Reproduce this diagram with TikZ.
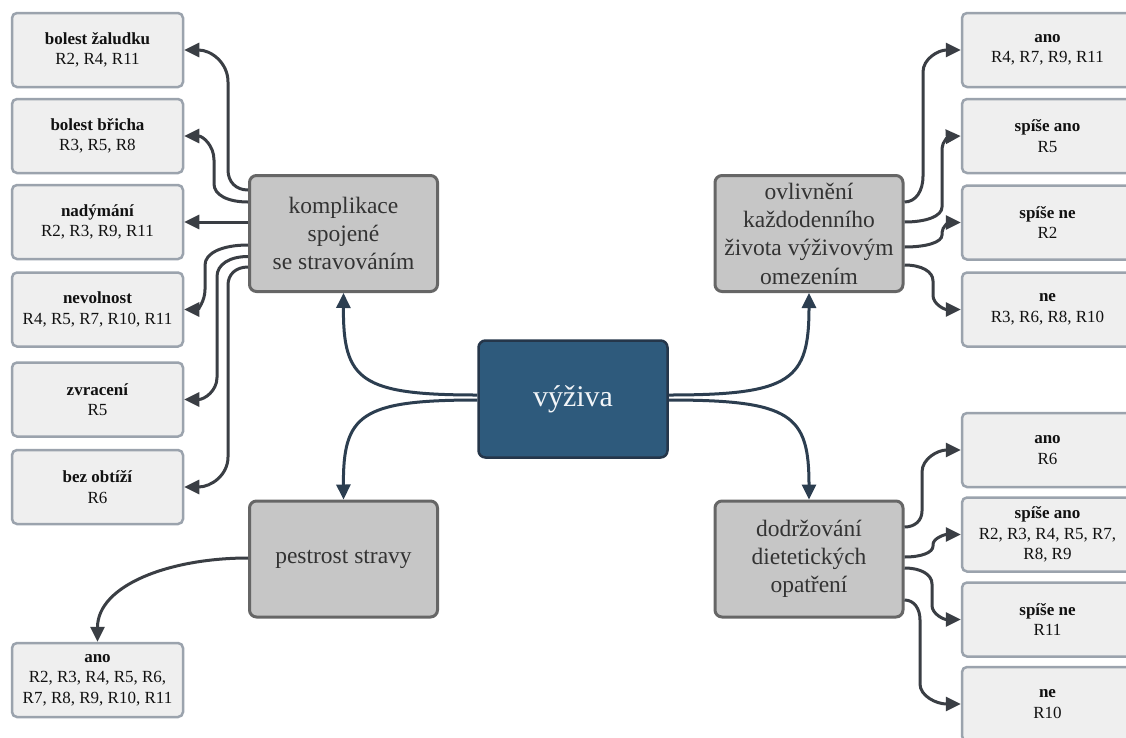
\documentclass[tikz,border=0pt]{standalone}
\usepackage{fontspec}
\setmainfont{Liberation Serif}
\usetikzlibrary{arrows.meta}
\definecolor{leaffill}{HTML}{EFEFEF}
\definecolor{leafline}{HTML}{9BA3AD}
\definecolor{leaftext}{HTML}{111111}
\definecolor{midfill}{HTML}{C6C6C6}
\definecolor{midline}{HTML}{666666}
\definecolor{midtext}{HTML}{333333}
\definecolor{rootfill}{HTML}{2E5A7C}
\definecolor{rootline}{HTML}{25364A}
\definecolor{roottext}{HTML}{F2F5F8}
\definecolor{rootlink}{HTML}{2C3E50}
\definecolor{leaflink}{HTML}{3A3E44}
\begin{document}
\begin{tikzpicture}[x=1pt,y=-1pt,
  leaf/.style={draw=leafline, fill=leaffill, line width=2.5pt, rounded corners=5pt,
    minimum width=171pt, minimum height=74pt, inner sep=0pt, align=center,
    text=leaftext, font=\fontsize{17}{20.5}\selectfont},
  topic/.style={draw=midline, fill=midfill, line width=3pt, rounded corners=7pt,
    minimum width=188pt, minimum height=116pt, inner sep=0pt, align=center,
    text=midtext, font=\fontsize{23.5}{28.3}\selectfont},
  root/.style={draw=rootline, fill=rootfill, line width=2.5pt, rounded corners=7pt,
    minimum width=189pt, minimum height=117pt, inner sep=0pt,
    text=roottext, font=\fontsize{30}{36}\selectfont},
  rootarrow/.style={draw=rootlink, line width=3pt, -{Triangle[length=15pt,width=14pt]}},
  leafarrow/.style={draw=leaflink, line width=3pt, -{Triangle[length=15pt,width=14pt]}},
]
\fill[white] (0,0) rectangle (1126,737);
\clip (0,0) rectangle (1126,737);

% central node and the four topics
\node[root] (root) at (573,399) {výživa};
\node[topic] (kompl) at (343.5,233.5) {komplikace\\spojené\\se stravováním};
\node[topic] (pestr) at (343.5,559) {pestrost stravy};
\node[topic] (ovliv) at (809,233.5) {ovlivnění\\každodenního\\života výživovým\\omezením};
\node[topic] (dodrz) at (809,559) {dodržování\\dietetických\\opatření};

% complications
\node[leaf] (k1) at (97.5,50) {\textbf{bolest žaludku}\\R2, R4, R11};
\node[leaf] (k2) at (97.5,136) {\textbf{bolest břicha}\\R3, R5, R8};
\node[leaf] (k3) at (97.5,222) {\textbf{nadýmání}\\R2, R3, R9, R11};
\node[leaf] (k4) at (97.5,309.5) {\textbf{nevolnost}\\R4, R5, R7, R10, R11};
\node[leaf] (k5) at (97.5,399.5) {\textbf{zvracení}\\R5};
\node[leaf] (k6) at (97.5,487) {\textbf{bez obtíží}\\R6};

% variety of diet
\node[leaf] (p1) at (97.5,680) {\textbf{ano}\\R2, R3, R4, R5, R6,\\R7, R8, R9, R10, R11};

% influence on daily life
\node[leaf] (o1) at (1047.5,50) {\textbf{ano}\\R4, R7, R9, R11};
\node[leaf] (o2) at (1047.5,136) {\textbf{spíše ano}\\R5};
\node[leaf] (o3) at (1047.5,222.5) {\textbf{spíše ne}\\R2};
\node[leaf] (o4) at (1047.5,309.5) {\textbf{ne}\\R3, R6, R8, R10};

% keeping dietary measures
\node[leaf] (d1) at (1047.5,450) {\textbf{ano}\\R6};
\node[leaf] (d2) at (1047.5,534.5) {\textbf{spíše ano}\\R2, R3, R4, R5, R7,\\R8, R9};
\node[leaf] (d3) at (1047.5,619.5) {\textbf{spíše ne}\\R11};
\node[leaf] (d4) at (1047.5,704) {\textbf{ne}\\R10};

% links from the root
\draw[rootarrow] (root.west |- 0,395) .. controls (360,395) and (343,380) .. (kompl.south);
\draw[rootarrow] (root.west |- 0,400) .. controls (360,400) and (343,415) .. (pestr.north);
\draw[rootarrow] (root.east |- 0,395) .. controls (792,395) and (809,380) .. (ovliv.south);
\draw[rootarrow] (root.east |- 0,400) .. controls (792,400) and (809,415) .. (dodrz.north);

% links to complications: rounded bend, vertical run, rounded bend
\draw[leafarrow] (kompl.west |- 0,190) .. controls (236,190) and (228,182) .. (228,170)
  -- (228,82) .. controls (228,62.8) and (211.2,50) .. (k1.east);
\draw[leafarrow] (kompl.west |- 0,202) .. controls (227.6,202) and (214,194.8) .. (214,184)
  -- (214,160) .. controls (214,145.6) and (202.8,136) .. (k2.east);
\draw[leafarrow] (kompl.west |- 0,222) -- (k3.east);
\draw[leafarrow] (kompl.west |- 0,245) .. controls (222.2,245) and (205,253) .. (205,265)
  -- (205,289.5) .. controls (205,301.5) and (197.4,309.5) .. (k4.east);
\draw[leafarrow] (kompl.west |- 0,256.5) .. controls (229.4,256.5) and (217,264.5) .. (217,276.5)
  -- (217,377.5) .. controls (217,390.7) and (204.6,399.5) .. (k5.east);
\draw[leafarrow] (kompl.west |- 0,267) .. controls (236,267) and (228,274.2) .. (228,285)
  -- (228,457) .. controls (228,475) and (211.2,487) .. (k6.east);

% link to variety of diet
\draw[leafarrow] (pestr.west |- 0,558) .. controls (170,558) and (97.5,585) .. (p1.north);

% links to influence on daily life
\draw[leafarrow] (ovliv.east |- 0,202) .. controls (915.4,202) and (923,191.6) .. (923,176)
  -- (923,72) .. controls (923,58.8) and (938.2,50) .. (o1.west);
\draw[leafarrow] (ovliv.east |- 0,222) .. controls (926.8,222) and (942,216) .. (942,207)
  -- (942,148.5) .. controls (942,141.3) and (949.6,136.5) .. (o2.west);
\draw[leafarrow] (ovliv.east |- 0,247) .. controls (926.8,247) and (942,242.2) .. (942,235)
  -- (942,232.5) .. controls (942,226.5) and (949.6,222.5) .. (o3.west);
\draw[leafarrow] (ovliv.east |- 0,265) .. controls (921.4,265) and (933,271.4) .. (933,281)
  -- (933,295.5) .. controls (933,303.9) and (944.2,309.5) .. (o4.west);

% links to keeping dietary measures
\draw[leafarrow] (dodrz.east |- 0,527) .. controls (914.8,527) and (922,520.6) .. (922,511)
  -- (922,472) .. controls (922,458.8) and (937.6,450) .. (d1.west);
\draw[leafarrow] (dodrz.east |- 0,557) .. controls (921.4,557) and (933,552.6) .. (933,546)
  -- (933,544.5) .. controls (933,538.5) and (944.2,534.5) .. (d2.west);
\draw[leafarrow] (dodrz.east |- 0,568) .. controls (920.8,568) and (932,574.4) .. (932,584)
  -- (932,605.5) .. controls (932,613.9) and (943.6,619.5) .. (d3.west);
\draw[leafarrow] (dodrz.east |- 0,600) .. controls (913.6,600) and (920,608) .. (920,620)
  -- (920,684) .. controls (920,696) and (936.4,704) .. (d4.west);
\end{tikzpicture}
\end{document}
